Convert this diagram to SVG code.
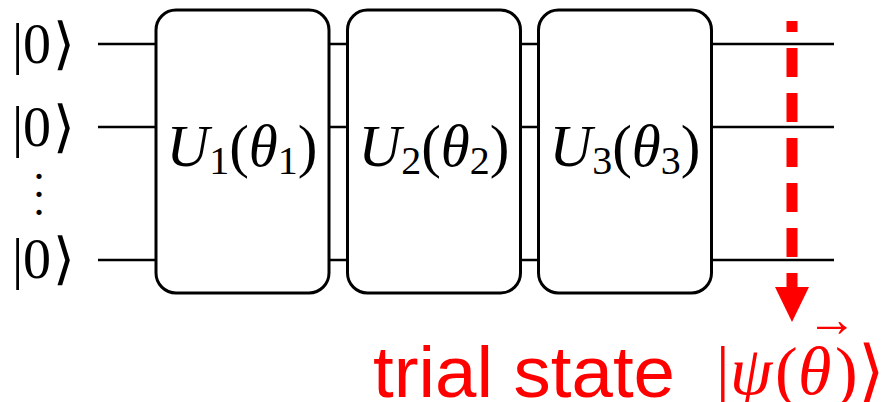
<svg xmlns="http://www.w3.org/2000/svg" width="888" height="402" viewBox="0 0 888 402">
<style>
.wire{stroke:#000;stroke-width:2.5;fill:none}
.gate{fill:#fff;stroke:#000;stroke-width:3}
.ket{font-family:"Liberation Serif","DejaVu Serif",serif;font-size:56px;fill:#000}
.glab{font-family:"Liberation Serif","DejaVu Serif",serif;font-size:59px;fill:#000}
.it{font-style:italic}
.sub{font-size:40px}
.math{font-family:"Liberation Serif","DejaVu Serif",serif;font-size:68px;fill:#ff0000}
</style>
<rect width="888" height="402" fill="#fff"/>
<g id="connectors">
<line class="wire" x1="98" y1="44" x2="834" y2="44"/>
<line class="wire" x1="98" y1="127" x2="834" y2="127"/>
<line class="wire" x1="98" y1="260" x2="834" y2="260"/>
</g>
<g id="inputs">
<text class="ket" x="12" y="63">|<tspan x="23">0</tspan><tspan x="53">⟩</tspan></text>
<text class="ket" x="12" y="146">|<tspan x="23">0</tspan><tspan x="53">⟩</tspan></text>
<text class="ket" x="12" y="278">|<tspan x="23">0</tspan><tspan x="53">⟩</tspan></text>
<text text-anchor="middle" font-family="'Liberation Serif','DejaVu Serif',serif" font-size="44" fill="#000"><tspan x="39" y="179">.</tspan><tspan x="39" y="197">.</tspan><tspan x="39" y="215">.</tspan></text>
</g>
<g id="gate1">
<rect class="gate" x="156" y="10" width="173" height="283" rx="20"/>
<text class="glab" x="242" y="166" text-anchor="middle"><tspan class="it">U</tspan><tspan class="sub" dy="8">1</tspan><tspan dy="-8">(</tspan><tspan class="it">θ</tspan><tspan class="sub" dy="8">1</tspan><tspan dy="-8">)</tspan></text>
</g>
<g id="gate2">
<rect class="gate" x="347.5" y="10" width="173" height="283" rx="20"/>
<text class="glab" x="434" y="166" text-anchor="middle"><tspan class="it">U</tspan><tspan class="sub" dy="8">2</tspan><tspan dy="-8">(</tspan><tspan class="it">θ</tspan><tspan class="sub" dy="8">2</tspan><tspan dy="-8">)</tspan></text>
</g>
<g id="gate3">
<rect class="gate" x="538.5" y="10" width="173" height="283" rx="20"/>
<text class="glab" x="625" y="166" text-anchor="middle"><tspan class="it">U</tspan><tspan class="sub" dy="8">3</tspan><tspan dy="-8">(</tspan><tspan class="it">θ</tspan><tspan class="sub" dy="8">3</tspan><tspan dy="-8">)</tspan></text>
</g>
<g id="trial-arrow">
<line x1="792" y1="21" x2="792" y2="288" stroke="#ff0000" stroke-width="11" stroke-dasharray="29 16" stroke-dashoffset="18"/>
<polygon points="775,287 809,287 792,322" fill="#ff0000"/>
</g>
<g id="trial-label">
<text x="373" y="397" font-family="'Liberation Sans','DejaVu Sans',sans-serif" font-size="72" fill="#ff0000" textLength="302" lengthAdjust="spacingAndGlyphs">trial state</text>
<text class="math" x="716" y="394">|<tspan x="730" font-style="italic">ψ</tspan><tspan x="775">(</tspan><tspan x="798" font-style="italic">θ</tspan><tspan x="835">)</tspan><tspan x="858">⟩</tspan></text>
<text x="832" y="336" text-anchor="middle" font-family="'Liberation Serif','DejaVu Serif',serif" font-size="50" fill="#ff0000">→</text>
</g>
</svg>
